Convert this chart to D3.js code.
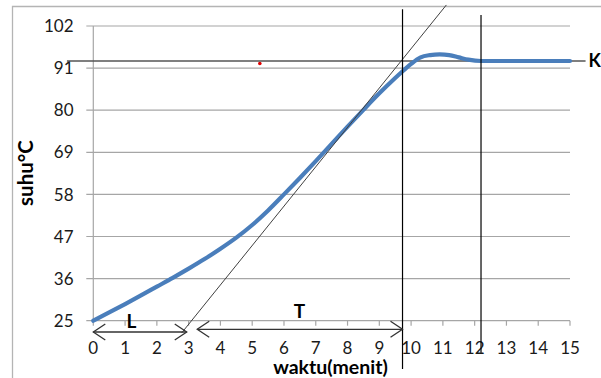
<!DOCTYPE HTML>
<html>
<head>
  <title>suhu vs waktu</title>
  <script src="https://d3js.org/d3.v7.min.js"></script>
  <style type="text/css">
    body { margin: 0; background: #fff; }
    text { font-family: Lato, "Open Sans", sans-serif; }
    .grid line { stroke: #a6a6a6; stroke-width: 1.2; }
    .tick-label { font-size: 17px; fill: #1a1a1a; }
    .curve { fill: none; stroke: #4a7ebb; stroke-width: 4.2; stroke-linecap: round; stroke-linejoin: round; }
  </style>
</head>
<body>
  <svg width="601" height="378"></svg>
  <script type="text/javascript">
    // tick values on both axes
    var yTicks = [25, 36, 47, 58, 69, 80, 91, 102];
    var xTicks = [0, 1, 2, 3, 4, 5, 6, 7, 8, 9, 10, 11, 12, 13, 14, 15];

    // temperature response
    var waktu = [0, 0.5, 1, 1.5, 2, 2.5, 3, 3.5, 4, 4.5, 5, 5.5, 6, 6.5, 7, 7.5, 8, 8.5, 9, 9.5, 9.75, 10, 10.3, 10.6, 10.9, 11.2, 11.5, 11.8, 12.2, 13, 14, 15];
    var suhu = [25, 27.15, 29.35, 31.6, 33.9, 36.2, 38.6, 41.1, 43.8, 46.7, 50.0, 53.8, 58.0, 62.3, 66.7, 71.2, 75.7, 80.1, 84.4, 88.4, 90.3, 92.1, 93.8, 94.4, 94.6, 94.4, 93.8, 93.2, 92.85, 92.85, 92.85, 92.85];

    // construction lines
    var K = 92.85;
    var kSpan = [-0.83, 15.49];
    var tangentX = [2.78, 11.11];
    var tangentY = [21.8, 107.5];
    var vLineX = [9.73, 12.2];
    var vLineBottom = [12.4, 16.6];
    var vLineTop = [106.4, 104.9];
    var arrowL = { x0: 0, x1: 2.94, y: 22.05 };
    var arrowT = { x0: 3.27, x1: 9.73, y: 22.75 };
    var redDot = { x: 5.24, y: 92.2 };

    var svg = d3.select("svg");

    var x = d3.scaleLinear().domain([0, 15]).range([93.3, 570]);
    var y = d3.scaleLinear().domain([25, 102]).range([320.7, 26]);

    // outer chart border (left and top visible)
    svg.append("path")
      .attr("d", "M12.5,378V6.5H601")
      .attr("fill", "none")
      .attr("stroke", "#b4b4b4")
      .attr("stroke-width", 1.3);

    // horizontal gridlines + left tick marks
    var grid = svg.append("g").attr("class", "grid");
    grid.selectAll("line")
      .data(yTicks)
      .enter().append("line")
      .attr("x1", x(0) - 7)
      .attr("x2", x(15))
      .attr("y1", function(d) { return y(d); })
      .attr("y2", function(d) { return y(d); });

    // y axis line
    grid.append("line")
      .attr("x1", x(0)).attr("x2", x(0))
      .attr("y1", y(102)).attr("y2", y(25));

    // x axis ticks (downward)
    grid.selectAll(".xt")
      .data(xTicks)
      .enter().append("line")
      .attr("class", "xt")
      .attr("x1", function(d) { return x(d); })
      .attr("x2", function(d) { return x(d); })
      .attr("y1", y(25))
      .attr("y2", y(25) + 5);

    // tick labels
    svg.selectAll(".ylab")
      .data(yTicks)
      .enter().append("text")
      .attr("class", "tick-label ylab")
      .attr("x", 73.5)
      .attr("y", function(d) { return y(d); })
      .attr("dy", "0.36em")
      .attr("text-anchor", "end")
      .text(function(d) { return d; });

    svg.selectAll(".xlab")
      .data(xTicks)
      .enter().append("text")
      .attr("class", "tick-label xlab")
      .attr("x", function(d) { return x(d); })
      .attr("y", 353.5)
      .attr("text-anchor", "middle")
      .text(function(d) { return d; });

    // axis titles
    svg.append("text")
      .attr("transform", "translate(33,173) rotate(-90)")
      .attr("text-anchor", "middle")
      .attr("font-weight", "bold")
      .attr("font-size", 20.5)
      .text("suhu°C");

    svg.append("text")
      .attr("x", 330.5)
      .attr("y", 374)
      .attr("text-anchor", "middle")
      .attr("font-weight", "bold")
      .attr("font-size", 19.5)
      .text("waktu(menit)");

    // K line
    svg.append("line")
      .attr("x1", x(kSpan[0])).attr("x2", x(kSpan[1]))
      .attr("y1", y(K)).attr("y2", y(K))
      .attr("stroke", "#555")
      .attr("stroke-width", 1.5);

    svg.append("text")
      .attr("x", 588.5)
      .attr("y", y(K))
      .attr("dy", "0.36em")
      .attr("font-weight", "bold")
      .attr("font-size", 18)
      .text("K");

    // red point
    svg.append("circle")
      .attr("cx", x(redDot.x))
      .attr("cy", y(redDot.y))
      .attr("r", 1.8)
      .attr("fill", "#e00000");

    // response curve
    var line = d3.line()
      .curve(d3.curveMonotoneX)
      .x(function(d, i) { return x(waktu[i]); })
      .y(function(d) { return y(d); });

    svg.append("path")
      .datum(suhu)
      .attr("class", "curve")
      .attr("d", line);

    // tangent line
    svg.append("line")
      .attr("x1", x(tangentX[0])).attr("y1", y(tangentY[0]))
      .attr("x2", x(tangentX[1])).attr("y2", y(tangentY[1]))
      .attr("stroke", "#404040")
      .attr("stroke-width", 1);

    // vertical lines
    svg.selectAll(".vline")
      .data(vLineX)
      .enter().append("line")
      .attr("class", "vline")
      .attr("x1", function(d) { return x(d); })
      .attr("x2", function(d) { return x(d); })
      .attr("y1", function(d, i) { return y(vLineTop[i]); })
      .attr("y2", function(d, i) { return y(vLineBottom[i]); })
      .attr("stroke", "#000")
      .attr("stroke-width", 1.2);

    // double headed open arrows
    function arrow(a) {
      var x0 = x(a.x0), x1 = x(a.x1), yy = y(a.y);
      var g = svg.append("g")
        .attr("fill", "none")
        .attr("stroke", "#333")
        .attr("stroke-width", 1.3);
      g.append("line").attr("x1", x0).attr("x2", x1).attr("y1", yy).attr("y2", yy);
      g.append("path").attr("d", "M" + (x0 + 12) + "," + (yy - 8) + "L" + x0 + "," + yy + "L" + (x0 + 12) + "," + (yy + 8));
      g.append("path").attr("d", "M" + (x1 - 12) + "," + (yy - 8) + "L" + x1 + "," + yy + "L" + (x1 - 12) + "," + (yy + 8));
    }
    arrow(arrowL);
    arrow(arrowT);

    svg.append("text")
      .attr("x", x(1.2))
      .attr("y", 328)
      .attr("text-anchor", "middle")
      .attr("font-weight", "bold")
      .attr("font-size", 19)
      .text("L");

    svg.append("text")
      .attr("x", x(6.49))
      .attr("y", 318)
      .attr("text-anchor", "middle")
      .attr("font-weight", "bold")
      .attr("font-size", 19)
      .text("T");
  </script>
</body>
</html>
